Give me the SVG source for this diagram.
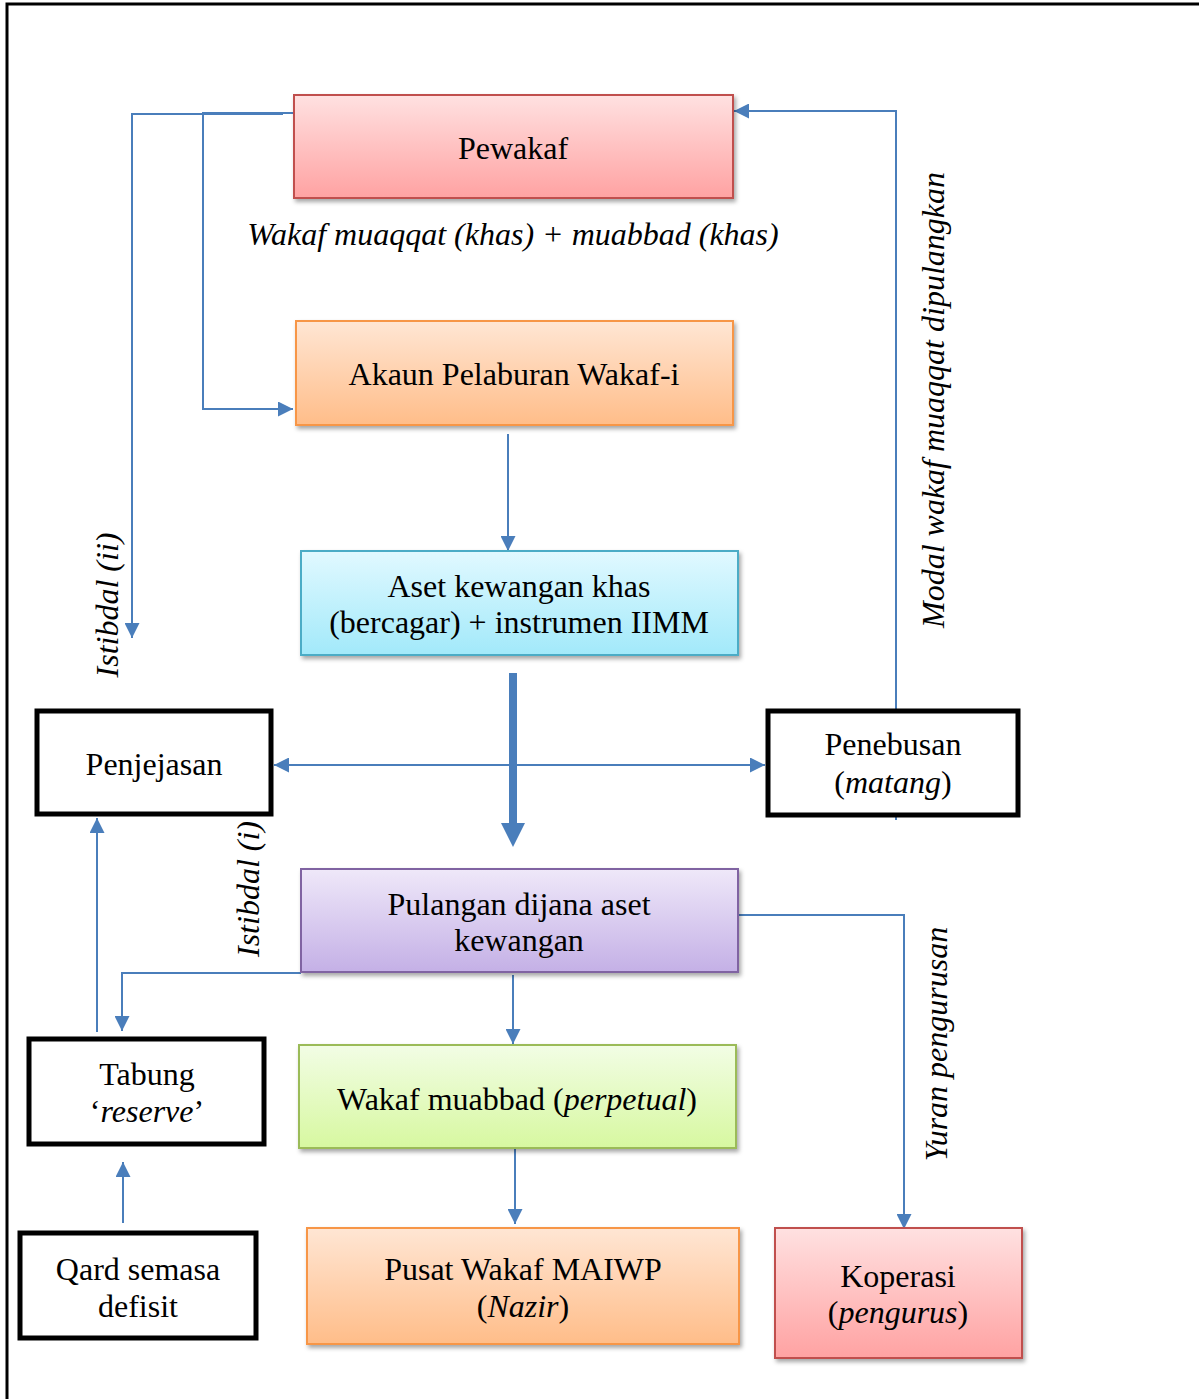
<svg xmlns="http://www.w3.org/2000/svg" width="1199" height="1399" viewBox="0 0 1199 1399">
<defs>
<style>
text{font-family:"Liberation Serif","Times New Roman",serif;font-size:32px;fill:#000;text-anchor:middle}
.it{font-style:italic}
.c{fill:none;stroke:#4a7ebb;stroke-width:2}
.blk{fill:#fff;stroke:#000;stroke-width:5}
</style>
<linearGradient id="gRed" x1="0" y1="0" x2="0" y2="1"><stop offset="0" stop-color="#ffe1e1"/><stop offset="1" stop-color="#ffa2a2"/></linearGradient>
<linearGradient id="gOrg" x1="0" y1="0" x2="0" y2="1"><stop offset="0" stop-color="#ffe6d4"/><stop offset="1" stop-color="#ffbd89"/></linearGradient>
<linearGradient id="gCyan" x1="0" y1="0" x2="0" y2="1"><stop offset="0" stop-color="#e1f9ff"/><stop offset="1" stop-color="#a2e9fa"/></linearGradient>
<linearGradient id="gPur" x1="0" y1="0" x2="0" y2="1"><stop offset="0" stop-color="#efe8f9"/><stop offset="1" stop-color="#c4b0e6"/></linearGradient>
<linearGradient id="gGrn" x1="0" y1="0" x2="0" y2="1"><stop offset="0" stop-color="#f2fde5"/><stop offset="1" stop-color="#d7f8a0"/></linearGradient>
<filter id="sh" x="-10%" y="-10%" width="120%" height="130%"><feDropShadow dx="2" dy="3" stdDeviation="2" flood-color="#000" flood-opacity="0.35"/></filter>
<marker id="ah" viewBox="0 0 10 10" refX="10" refY="5" markerWidth="15" markerHeight="15" markerUnits="userSpaceOnUse" orient="auto"><path d="M0,0 L10,5 L0,10 z" fill="#4a7ebb"/></marker>
<marker id="ahs" viewBox="0 0 10 10" refX="10" refY="5" markerWidth="15" markerHeight="15" markerUnits="userSpaceOnUse" orient="auto-start-reverse"><path d="M0,0 L10,5 L0,10 z" fill="#4a7ebb"/></marker>
</defs>
<rect x="7" y="4" width="1220" height="1420" fill="none" stroke="#000" stroke-width="3"/>

<g id="connectors">
<path class="c" d="M283,114 H132 V638" marker-end="url(#ah)"/>
<path class="c" d="M302,113 H203 V409 H293" marker-end="url(#ah)"/>
<path class="c" d="M508,434 V551" marker-end="url(#ah)"/>
<line x1="513" y1="673" x2="513" y2="825" stroke="#4a7ebb" stroke-width="8"/>
<path d="M501,823 H525 L513,847 z" fill="#4a7ebb"/>
<path class="c" d="M274,765 H765" marker-start="url(#ahs)" marker-end="url(#ah)"/>
<path class="c" d="M896,820 V111 H734" marker-end="url(#ah)"/>
<path class="c" d="M738,915 H904 V1229" marker-end="url(#ah)"/>
<path class="c" d="M301,973 H122 V1031" marker-end="url(#ah)"/>
<path class="c" d="M97,1032 V818" marker-end="url(#ah)"/>
<path class="c" d="M123,1223 V1162" marker-end="url(#ah)"/>
<path class="c" d="M513,975 V1044" marker-end="url(#ah)"/>
<path class="c" d="M515,1141 V1224" marker-end="url(#ah)"/>
</g>

<g id="pewakaf">
<rect x="294" y="95" width="439" height="103" fill="url(#gRed)" stroke="#c0504d" stroke-width="2" filter="url(#sh)"/>
<text x="513" y="159">Pewakaf</text>
</g>
<g id="label-wakaf">
<text class="it" x="513" y="245">Wakaf muaqqat (khas) + muabbad (khas)</text>
</g>
<g id="akaun">
<rect x="296" y="321" width="437" height="104" fill="url(#gOrg)" stroke="#f79646" stroke-width="2" filter="url(#sh)"/>
<text x="514" y="385">Akaun Pelaburan Wakaf-i</text>
</g>
<g id="aset">
<rect x="301" y="551" width="437" height="104" fill="url(#gCyan)" stroke="#4bacc6" stroke-width="2" filter="url(#sh)"/>
<text x="519" y="597">Aset kewangan khas</text>
<text x="519" y="633">(bercagar) + instrumen IIMM</text>
</g>
<g id="penjejasan">
<rect class="blk" x="37" y="711" width="234" height="103"/>
<text x="154" y="775">Penjejasan</text>
</g>
<g id="penebusan">
<rect class="blk" x="768" y="711" width="250" height="104"/>
<text x="893" y="755">Penebusan</text>
<text x="893" y="793">(<tspan class="it">matang</tspan>)</text>
</g>
<g id="pulangan">
<rect x="301" y="869" width="437" height="103" fill="url(#gPur)" stroke="#8064a2" stroke-width="2" filter="url(#sh)"/>
<text x="519" y="915">Pulangan dijana aset</text>
<text x="519" y="951">kewangan</text>
</g>
<g id="tabung">
<rect class="blk" x="29" y="1039" width="235" height="105"/>
<text x="147" y="1085">Tabung</text>
<text x="147" y="1122">‘<tspan class="it">reserve</tspan>’</text>
</g>
<g id="qard">
<rect class="blk" x="20" y="1233" width="236" height="105"/>
<text x="138" y="1280">Qard semasa</text>
<text x="138" y="1317">defisit</text>
</g>
<g id="muabbad">
<rect x="299" y="1045" width="437" height="103" fill="url(#gGrn)" stroke="#9bbb59" stroke-width="2" filter="url(#sh)"/>
<text x="517" y="1110">Wakaf muabbad (<tspan class="it">perpetual</tspan>)</text>
</g>
<g id="pusat">
<rect x="307" y="1228" width="432" height="116" fill="url(#gOrg)" stroke="#f79646" stroke-width="2" filter="url(#sh)"/>
<text x="523" y="1280">Pusat Wakaf MAIWP</text>
<text x="523" y="1317">(<tspan class="it">Nazir</tspan>)</text>
</g>
<g id="koperasi">
<rect x="775" y="1228" width="247" height="130" fill="url(#gRed)" stroke="#c0504d" stroke-width="2" filter="url(#sh)"/>
<text x="898" y="1287">Koperasi</text>
<text x="898" y="1323">(<tspan class="it">pengurus</tspan>)</text>
</g>

<g id="labels">
<text class="it" transform="translate(118,605) rotate(-90)">Istibdal (ii)</text>
<text class="it" transform="translate(259,889) rotate(-90)">Istibdal (i)</text>
<text class="it" transform="translate(944,400) rotate(-90)">Modal wakaf muaqqat dipulangkan</text>
<text class="it" transform="translate(947,1044) rotate(-90)">Yuran pengurusan</text>
</g>
</svg>
